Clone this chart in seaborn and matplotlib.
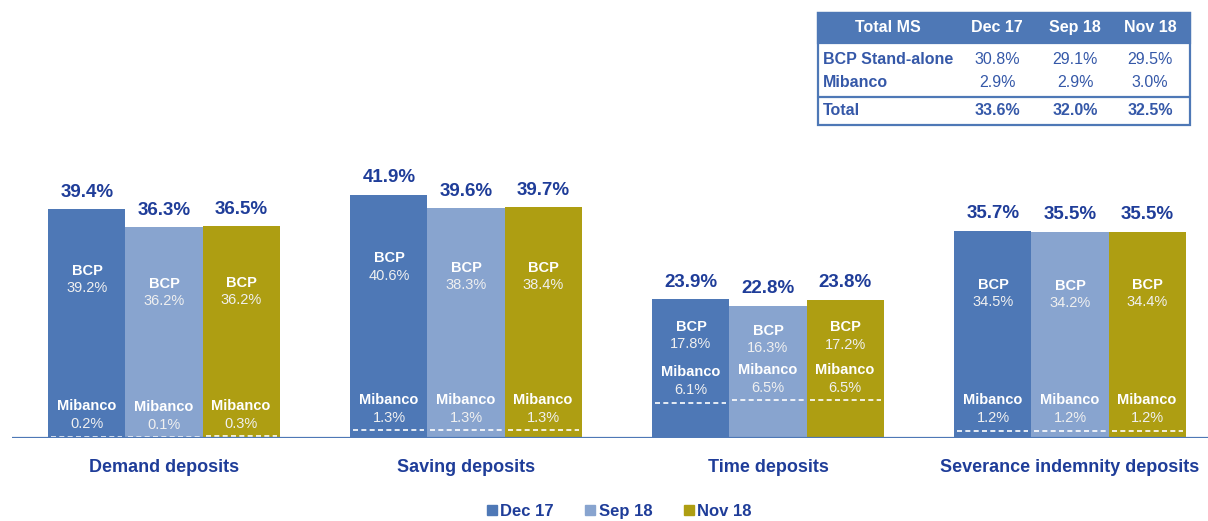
import numpy as np
import pandas as pd
import seaborn as sns
import matplotlib.pyplot as plt
from matplotlib.lines import Line2D
from matplotlib.patches import Rectangle

sns.set_style("white")
plt.rcParams['font.family'] = ['Liberation Sans', 'DejaVu Sans']

categories = ["Demand deposits", "Saving deposits", "Time deposits", "Severance indemnity deposits"]
periods = ["Dec 17", "Sep 18", "Nov 18"]

total_dec17 = [39.4, 41.9, 23.9, 35.7]
total_sep18 = [36.3, 39.6, 22.8, 35.5]
total_nov18 = [36.5, 39.7, 23.8, 35.5]

bcp_dec17 = [39.2, 40.6, 17.8, 34.5]
bcp_sep18 = [36.2, 38.3, 16.3, 34.2]
bcp_nov18 = [36.2, 38.4, 17.2, 34.4]

mib_dec17 = [0.2, 1.3, 6.1, 1.2]
mib_sep18 = [0.1, 1.3, 6.5, 1.2]
mib_nov18 = [0.3, 1.3, 6.5, 1.2]

# summary table (top right)
table_header = ["Total MS", "Dec 17", "Sep 18", "Nov 18"]
table_rows = ["BCP Stand-alone", "Mibanco", "Total"]
table_bcp = ["30.8%", "29.1%", "29.5%"]
table_mib = ["2.9%", "2.9%", "3.0%"]
table_total = ["33.6%", "32.0%", "32.5%"]

colors = ["#4E78B6", "#88A4CF", "#AE9E12"]
dark_blue = "#1F3D99"

totals = [total_dec17, total_sep18, total_nov18]
bcps = [bcp_dec17, bcp_sep18, bcp_nov18]
mibs = [mib_dec17, mib_sep18, mib_nov18]

rows = []
for p, t in zip(periods, totals):
    for c, v in zip(categories, t):
        rows.append({"category": c, "period": p, "total": v})
df = pd.DataFrame(rows)

W, H = 1208, 521
fig = plt.figure(figsize=(W / 100, H / 100), dpi=100)
ax = fig.add_axes([12 / W, 83 / H, 1196 / W, 438 / H])

sns.barplot(data=df, x="category", y="total", hue="period", order=categories,
            hue_order=periods, palette=colors, saturation=1, width=0.765,
            gap=0, linewidth=0, legend=False, ax=ax)

for cont, tot, bcp, mib in zip(ax.containers, totals, bcps, mibs):
    for bar, t, b, m in zip(cont, tot, bcp, mib):
        xc = bar.get_x() + bar.get_width() / 2
        x0 = bar.get_x() + 3 / 302
        x1 = bar.get_x() + bar.get_width() - 3 / 302
        ax.annotate(f"{t:.1f}%", (xc, t), xytext=(0, 6), textcoords="offset points",
                    ha="center", va="bottom", fontsize=13.5, fontweight="bold", color=dark_blue)
        # BCP label sits about 3/4 up the BCP segment
        yb = m + 0.73 * b
        ax.annotate("BCP", (xc, yb), xytext=(0, 0), textcoords="offset points",
                    ha="center", va="center", fontsize=10.5, fontweight="bold", color="white")
        ax.annotate(f"{b:.1f}%", (xc, yb), xytext=(0, -12.5), textcoords="offset points",
                    ha="center", va="center", fontsize=10.5, color="#F0F0F0")
        ax.hlines(m, x0, x1, colors="white", linestyles=(0, (3, 2)), lw=1.2)
        ax.annotate(f"{m:.1f}%", (xc, m), xytext=(0, 4), textcoords="offset points",
                    ha="center", va="bottom", fontsize=10.5, color="#F0F0F0")
        ax.annotate("Mibanco", (xc, m), xytext=(0, 17), textcoords="offset points",
                    ha="center", va="bottom", fontsize=10.5, fontweight="bold", color="white")

ax.set_xlim(-152 / 302, 1044 / 302)
ax.set_ylim(0, 438 / 5.81)
ax.axhline(0, color="#4E78B6", lw=1.6, zorder=5)
for s in ax.spines.values():
    s.set_visible(False)
ax.set_yticks([])
ax.set_xlabel("")
ax.set_ylabel("")
ax.tick_params(axis="x", length=0, pad=15)
for lab in ax.get_xticklabels():
    lab.set_fontsize(13)
    lab.set_fontweight("bold")
    lab.set_color(dark_blue)
ax.patch.set_alpha(0)

# table drawn in pixel coordinates
tax = fig.add_axes([0, 0, 1, 1], zorder=3)
tax.set_xlim(0, W)
tax.set_ylim(H, 0)
tax.axis("off")
tbl_blue = "#4E78B6"
tax.add_patch(Rectangle((818, 13), 372, 112, facecolor="white", edgecolor=tbl_blue, lw=1.6))
tax.add_patch(Rectangle((818, 13), 372, 30, facecolor=tbl_blue, edgecolor=tbl_blue, lw=1.6))
tax.plot([818, 1190], [97, 97], color=tbl_blue, lw=1.6)
col_x = [888, 997, 1075, 1150]
for x, h in zip(col_x, table_header):
    tax.text(x, 32, h, ha="center", va="baseline", fontsize=11.5, fontweight="bold", color="white")
row_y = [64, 87, 115]
body_color = "#3558A8"
for y, name, vals in zip(row_y, table_rows, [table_bcp, table_mib, table_total]):
    bold = name == "Total"
    tax.text(823, y, name, ha="left", va="baseline", fontsize=11.5, fontweight="bold", color=body_color)
    for x, v in zip(col_x[1:], vals):
        tax.text(x, y, v, ha="center", va="baseline", fontsize=11.5,
                 fontweight="bold" if bold else "normal", color=body_color)

handles = [Line2D([], [], marker="s", linestyle="", markersize=7, color=c) for c in colors]
fig.legend(handles, periods, loc="center", bbox_to_anchor=(0.512, 0.018), ncol=3,
           frameon=False, handletextpad=0.1, columnspacing=1.8, handlelength=0.8,
           prop={"weight": "bold", "size": 12}, labelcolor=dark_blue)

fig.savefig("out.png", dpi=100)
